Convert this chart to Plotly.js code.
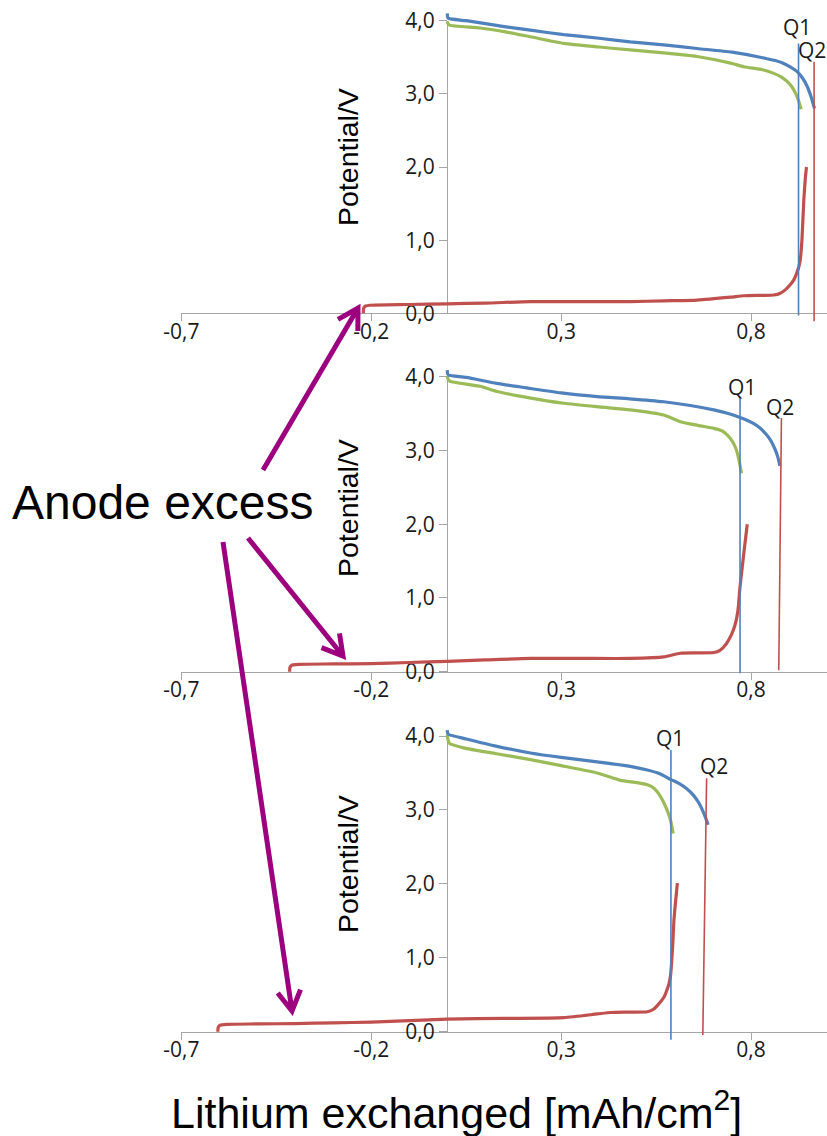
<!DOCTYPE html>
<html>
<head>
<meta charset="utf-8">
<script src="https://cdn.plot.ly/plotly-3.0.1.min.js"></script>
<style>html,body{margin:0;padding:0;background:#fff;}#chart{width:827px;height:1136px;}</style>
</head>
<body>
<div id="chart"></div>
<script>
// ---------- data ----------
const xTickVals = [-0.7, -0.2, 0.3, 0.8];
const xTickText = ["-0,7", "-0,2", "0,3", "0,8"];
const yTickVals = [0, 1, 2, 3, 4];
const yTickText = ["0,0", "1,0", "2,0", "3,0", "4,0"];

// Panel 1
const blue1X = [0, 0.001, 0.004, 0.05, 0.15, 0.219, 0.307, 0.40, 0.482, 0.57, 0.658, 0.75, 0.834, 0.88, 0.903, 0.920, 0.935, 0.948, 0.958, 0.967];
const blue1Y = [4.10, 4.05, 4.03, 4.00, 3.92, 3.87, 3.81, 3.76, 3.71, 3.67, 3.62, 3.57, 3.49, 3.43, 3.37, 3.31, 3.22, 3.10, 2.96, 2.80];
const green1X = [0, 0.002, 0.006, 0.087, 0.15, 0.219, 0.307, 0.40, 0.482, 0.57, 0.658, 0.746, 0.781, 0.830, 0.860, 0.880, 0.895, 0.907, 0.917, 0.925, 0.932];
const green1Y = [3.99, 3.96, 3.94, 3.90, 3.85, 3.78, 3.69, 3.64, 3.60, 3.56, 3.51, 3.42, 3.37, 3.33, 3.28, 3.23, 3.17, 3.10, 3.01, 2.91, 2.79];
const red1X = [-0.221, -0.220, -0.215, -0.203, -0.1, 0, 0.1, 0.219, 0.35, 0.482, 0.57, 0.658, 0.746, 0.781, 0.830, 0.860, 0.876, 0.890, 0.903, 0.913, 0.921, 0.926, 0.930, 0.934, 0.939, 0.943, 0.946];
const red1Y = [0.0, 0.07, 0.10, 0.11, 0.12, 0.13, 0.14, 0.16, 0.16, 0.16, 0.17, 0.18, 0.22, 0.24, 0.245, 0.25, 0.27, 0.32, 0.39, 0.46, 0.56, 0.64, 0.75, 1.00, 1.55, 1.85, 2.00];

// Panel 2
const blue2X = [0, 0.001, 0.004, 0.05, 0.13, 0.219, 0.30, 0.395, 0.48, 0.570, 0.64, 0.702, 0.740, 0.764, 0.785, 0.805, 0.822, 0.838, 0.850, 0.862, 0.870, 0.876];
const blue2Y = [4.09, 4.04, 4.02, 3.99, 3.91, 3.84, 3.78, 3.73, 3.70, 3.66, 3.61, 3.55, 3.50, 3.46, 3.42, 3.37, 3.31, 3.23, 3.15, 3.03, 2.92, 2.79];
const green2X = [0, 0.002, 0.006, 0.087, 0.131, 0.22, 0.307, 0.40, 0.482, 0.570, 0.614, 0.66, 0.702, 0.722, 0.737, 0.750, 0.759, 0.767, 0.775];
const green2Y = [4.01, 3.97, 3.94, 3.87, 3.80, 3.71, 3.64, 3.59, 3.55, 3.48, 3.39, 3.34, 3.30, 3.27, 3.21, 3.13, 3.04, 2.90, 2.69];
const red2X = [-0.415, -0.414, -0.408, -0.39, -0.3, -0.2, -0.1, 0, 0.1, 0.219, 0.35, 0.482, 0.570, 0.614, 0.66, 0.702, 0.718, 0.735, 0.748, 0.757, 0.763, 0.767, 0.770, 0.774, 0.782, 0.790];
const red2Y = [0.0, 0.06, 0.09, 0.10, 0.105, 0.11, 0.125, 0.14, 0.16, 0.18, 0.18, 0.18, 0.20, 0.25, 0.255, 0.26, 0.29, 0.38, 0.50, 0.62, 0.75, 0.90, 1.10, 1.29, 1.65, 2.00];

// Panel 3
const blue3X = [0, 0.001, 0.004, 0.05, 0.131, 0.219, 0.30, 0.395, 0.482, 0.527, 0.560, 0.589, 0.610, 0.630, 0.648, 0.663, 0.676, 0.687];
const blue3Y = [4.08, 4.04, 4.02, 3.96, 3.86, 3.77, 3.71, 3.65, 3.59, 3.54, 3.49, 3.41, 3.36, 3.29, 3.20, 3.09, 2.95, 2.80];
const green3X = [0, 0.002, 0.006, 0.043, 0.13, 0.219, 0.30, 0.395, 0.456, 0.500, 0.527, 0.545, 0.558, 0.571, 0.581, 0.588, 0.595];
const green3Y = [4.02, 3.95, 3.90, 3.84, 3.76, 3.68, 3.60, 3.50, 3.40, 3.37, 3.34, 3.29, 3.21, 3.09, 2.97, 2.86, 2.68];
const red3X = [-0.604, -0.603, -0.597, -0.58, -0.5, -0.4, -0.3, -0.2, -0.1, 0, 0.15, 0.307, 0.395, 0.430, 0.48, 0.527, 0.542, 0.556, 0.571, 0.579, 0.584, 0.588, 0.591, 0.594, 0.597, 0.602, 0.606];
const red3Y = [0.0, 0.06, 0.09, 0.10, 0.105, 0.11, 0.12, 0.13, 0.15, 0.17, 0.18, 0.19, 0.24, 0.26, 0.265, 0.27, 0.30, 0.37, 0.47, 0.57, 0.65, 0.76, 0.95, 1.20, 1.51, 1.80, 2.01];

// Q1 / Q2 marker lines per panel
const q1X = [0.925, 0.771, 0.589];
const q1Top = [3.69, 3.71, 3.81];
const q1Bottom = [-0.03, -0.02, -0.11];
const q2XTop = [0.966, 0.880, 0.683];
const q2XBottom = [0.966, 0.873, 0.673];
const q2Top = [3.44, 3.44, 3.43];
const q2Bottom = [-0.11, 0.02, -0.045];
const qLabels = ["Q1", "Q2"];
const q1LabelX = [0.922, 0.777, 0.586];
const q1LabelY = [3.92, 3.86, 3.97];
const q2LabelX = [0.961, 0.876, 0.702];
const q2LabelY = [3.60, 3.59, 3.59];

// ---------- layout helpers ----------
const W = 827, H = 1136;
const px = v => v / W;
const py = v => 1 - v / H;

const BLUE = "#4F81BD", GREEN = "#9BBB59", RED = "#C0504D", PURPLE = "#9C007E";
const AXC = "#A6A6A6";
const TXT = "#1a1a1a";
const X0PX = 181.4, YAXPX = 447;

const panels = [
  {bx: blue1X, by: blue1Y, gx: green1X, gy: green1Y, rx: red1X, ry: red1Y, zeroPx: 313.3, fourPx: 20.7, titleY: 157},
  {bx: blue2X, by: blue2Y, gx: green2X, gy: green2Y, rx: red2X, ry: red2Y, zeroPx: 671.7, fourPx: 376.7, titleY: 508},
  {bx: blue3X, by: blue3Y, gx: green3X, gy: green3Y, rx: red3X, ry: red3Y, zeroPx: 1031.7, fourPx: 736, titleY: 864}
];

const traces = [];
const layout = {
  width: W, height: H,
  margin: {l: 0, r: 0, t: 0, b: 0, pad: 0},
  paper_bgcolor: "#fff", plot_bgcolor: "rgba(0,0,0,0)",
  showlegend: false,
  font: {family: "Open Sans, sans-serif", color: TXT},
  annotations: [],
  shapes: []
};

const id = k => (k === 1 ? "" : String(k));

// visible axis frames first (a placeholder trace makes each subplot exist)
panels.forEach((p, i) => {
  const n = i + 1;
  const xa = "x" + id(n), ya = "y" + id(n);
  traces.push({x: [null], y: [null], xaxis: xa, yaxis: ya, mode: "lines", hoverinfo: "skip", showlegend: false});
  layout["xaxis" + id(n)] = {
    domain: [px(X0PX), 1], anchor: ya, range: [-0.7, 1.0],
    showgrid: false, zeroline: false, showline: true, linecolor: AXC, linewidth: 1,
    ticks: "outside", ticklen: 7, tickcolor: AXC, tickwidth: 1,
    tickvals: xTickVals, ticktext: xTickText, ticklabelstandoff: -8,
    tickfont: {family: "Open Sans, sans-serif", size: 21, color: TXT}
  };
  layout["yaxis" + id(n)] = {
    domain: [py(p.zeroPx), py(p.fourPx)], anchor: "free", position: px(YAXPX),
    range: [0, 4],
    showgrid: false, zeroline: false, showline: true, linecolor: AXC, linewidth: 1,
    ticks: "outside", ticklen: 8, tickcolor: AXC, tickwidth: 1,
    tickvals: yTickVals, ticktext: yTickText,
    tickfont: {family: "Open Sans, sans-serif", size: 21, color: TXT}
  };
});

// curves on hidden, slightly taller axes with the same scale (so nothing is clipped)
panels.forEach((p, i) => {
  const h = i + 4;
  const xh = "x" + id(h), yh = "y" + id(h);
  const common = {xaxis: xh, yaxis: yh, mode: "lines", hoverinfo: "skip", showlegend: false};
  const smooth = {shape: "spline", smoothing: 0.6};
  traces.push(Object.assign({x: p.rx, y: p.ry, line: Object.assign({color: RED, width: 3.2}, smooth)}, common));
  traces.push(Object.assign({x: p.gx, y: p.gy, line: Object.assign({color: GREEN, width: 3.2}, smooth)}, common));
  traces.push(Object.assign({x: p.bx, y: p.by, line: Object.assign({color: BLUE, width: 3.2}, smooth)}, common));
  traces.push(Object.assign({x: [q1X[i], q1X[i]], y: [q1Bottom[i], q1Top[i]], line: {color: BLUE, width: 1.6}}, common));
  traces.push(Object.assign({x: [q2XBottom[i], q2XTop[i]], y: [q2Bottom[i], q2Top[i]], line: {color: RED, width: 1.6}}, common));

  const s = (p.zeroPx - p.fourPx) / 4; // px per volt
  const extDown = 16, extUp = 20;
  layout["xaxis" + id(h)] = {
    domain: [px(X0PX), 1], anchor: yh, range: [-0.7, 1.0], visible: false, fixedrange: true
  };
  layout["yaxis" + id(h)] = {
    domain: [py(p.zeroPx + extDown), Math.min(1, py(p.fourPx - extUp))], anchor: xh,
    range: [-extDown / s, 4 + extUp / s], visible: false, fixedrange: true
  };

  layout.annotations.push({
    xref: xh, yref: yh, x: q1LabelX[i], y: q1LabelY[i], text: qLabels[0], showarrow: false,
    xanchor: "center", yanchor: "middle",
    font: {family: "Open Sans, sans-serif", size: 21, color: TXT}
  });
  layout.annotations.push({
    xref: xh, yref: yh, x: q2LabelX[i], y: q2LabelY[i], text: qLabels[1], showarrow: false,
    xanchor: "center", yanchor: "middle",
    font: {family: "Open Sans, sans-serif", size: 21, color: TXT}
  });
  layout.annotations.push({
    xref: "paper", yref: "paper", x: px(348), y: py(p.titleY), text: "Potential/V",
    textangle: -90, showarrow: false, xanchor: "center", yanchor: "middle",
    font: {family: "Liberation Sans, Arial, sans-serif", size: 28.5, color: "#000"}
  });
});

layout.annotations.push({
  xref: "paper", yref: "paper", x: px(163), y: py(502), text: "Anode excess",
  showarrow: false, xanchor: "center", yanchor: "middle",
  font: {family: "Liberation Sans, Arial, sans-serif", size: 48, color: "#000"}
});
layout.annotations.push({
  xref: "paper", yref: "paper", x: px(456), y: py(1110), text: "Lithium exchanged [mAh/cm<sup>2</sup>]",
  showarrow: false, xanchor: "center", yanchor: "middle",
  font: {family: "Liberation Sans, Arial, sans-serif", size: 43, color: "#000"}
});

// purple pointer arrows (pixel positions of the annotation drawing)
const arrows = [
  {tail: [263, 470], tip: [358, 308]},
  {tail: [248, 538], tip: [343, 656]},
  {tail: [223, 542], tip: [292, 1011]}
];
arrows.forEach(a => {
  const dx = a.tail[0] - a.tip[0], dy = a.tail[1] - a.tip[1];
  const L = Math.hypot(dx, dy), ux = dx / L, uy = dy / L;
  const ang = 30 * Math.PI / 180, len = 23;
  const rot = sg => [a.tip[0] + len * (ux * Math.cos(sg * ang) - uy * Math.sin(sg * ang)),
                     a.tip[1] + len * (ux * Math.sin(sg * ang) + uy * Math.cos(sg * ang))];
  const a1 = rot(1), a2 = rot(-1);
  const P = pt => px(pt[0]).toFixed(5) + "," + py(pt[1]).toFixed(5);
  layout.shapes.push({
    type: "path", xref: "paper", yref: "paper",
    path: "M" + P(a.tail) + "L" + P(a.tip) + "M" + P(a1) + "L" + P(a.tip) + "L" + P(a2),
    line: {color: PURPLE, width: 5}
  });
});

Plotly.newPlot("chart", traces, layout, {staticPlot: true, displayModeBar: false});
</script>
</body>
</html>
